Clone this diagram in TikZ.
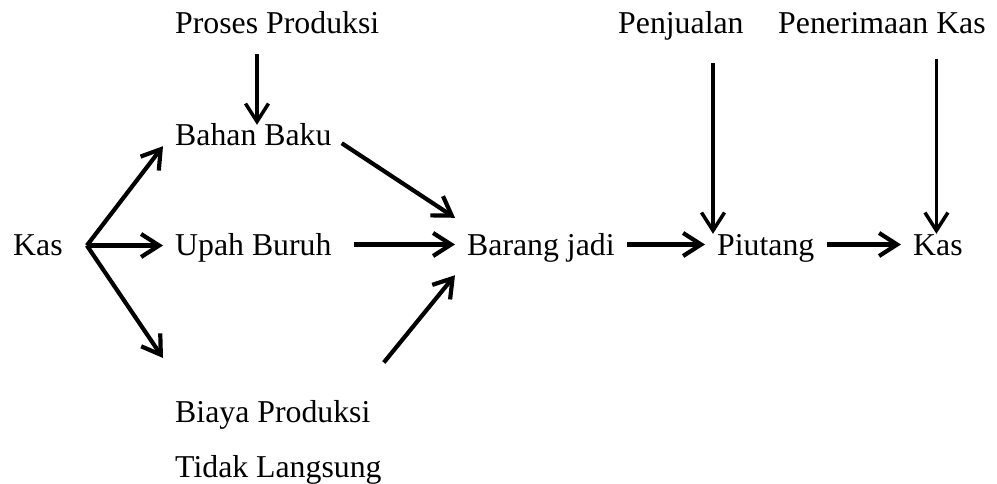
\documentclass[tikz,border=0pt]{standalone}
\usepackage{fontspec}
\setmainfont{Liberation Serif}
\usetikzlibrary{arrows.meta,calc}

\begin{document}
\begin{tikzpicture}[
  x=1pt, y=-1pt,
  lbl/.style={font=\fontsize{31.8}{55}\selectfont, inner xsep=12pt, inner ysep=0pt,
              text height=21pt, text depth=0pt, anchor=base west, xshift=-12pt},
  twoline/.style={font=\fontsize{31.8}{55}\selectfont, inner xsep=12pt, inner ysep=0pt,
              align=left, anchor=north west, xshift=-12pt},
  arr/.style={line width=4.2pt, -{Straight Barb[length=18pt,width=23pt]}},
  varr/.style={line width=3.5pt, -{Straight Barb[length=18pt,width=23pt]}},
]
\useasboundingbox (0,0) rectangle (997,484);

% labels
\node[lbl] (proses)  at (175,34)  {Proses Produksi};
\node[lbl] (jual)    at (618,34)  {Penjualan};
\node[lbl] (terima)  at (778,34)  {Penerimaan Kas};
\node[lbl] (bahan)   at (175,146) {Bahan Baku};
\node[lbl] (kasA)    at (13,255)  {Kas};
\node[lbl] (upah)    at (175,255) {Upah Buruh};
\node[lbl] (barang)  at (467,255) {Barang jadi};
\node[lbl] (piutang) at (717,255) {Piutang};
\node[lbl] (kasB)    at (913,255) {Kas};
\node[twoline] (biaya) at (175,400.5) {Biaya Produksi\\Tidak Langsung};

% cash splits into the three cost items
\coordinate (split) at ($(kasA.east)+(12,1)$);
\draw[arr] (split) -- (bahan.south west);
\draw[arr] (split) -- (split -| upah.west);
\draw[arr] (split) -- ($(biaya.north west)+(0,-42.5)$);

% production process feeds raw material
\coordinate (p1) at ($(proses.south west)+(94,20)$);
\draw[varr] (p1) -- (p1 |- bahan.north);

% cost items into finished goods
\draw[arr] ($(bahan.south east)+(-2,-3)$) -- ($(barang.north west)+(0,-16)$);
\draw[arr] ($(upah.east)+(10,0)$) -- (barang.west);
\draw[arr] ($(biaya.north east)+(-10,-38)$) -- ($(barang.south west)+(0,20)$);

% finished goods to receivables to cash
\draw[arr] (barang.east) -- (piutang.west);
\draw[arr] (piutang.east) -- (kasB.west);

% sales and cash receipts
\coordinate (q) at ($(piutang.north west)+(8,0)$);
\draw[varr] ($(jual.south -| q)+(0,29)$) -- (q);
\coordinate (r) at ($(kasB.north)+(-1.5,0)$);
\draw[varr] ($(terima.south -| r)+(0,25)$) -- (r);
\end{tikzpicture}
\end{document}
